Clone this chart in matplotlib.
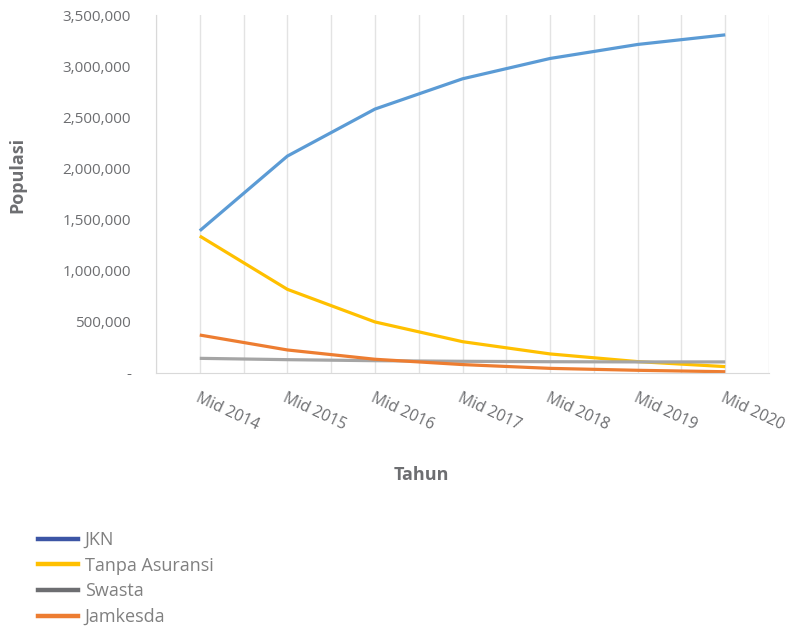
import matplotlib.pyplot as plt
from matplotlib.lines import Line2D
from matplotlib.ticker import FuncFormatter

# data
tahun = ["Mid 2014", "Mid 2015", "Mid 2016", "Mid 2017", "Mid 2018", "Mid 2019", "Mid 2020"]
jkn = [1391000, 2121000, 2581000, 2877000, 3076000, 3213000, 3307000]
tanpa_asuransi = [1339000, 818000, 499000, 306000, 186000, 111000, 62000]
swasta = [143000, 130000, 120000, 114000, 110000, 108000, 108000]
jamkesda = [371000, 225000, 134000, 82000, 45000, 26000, 12000]

seri = ["JKN", "Tanpa Asuransi", "Swasta", "Jamkesda"]
warna_garis = ["#5B9BD5", "#FFC000", "#A5A5A5", "#ED7D31"]
warna_legenda = ["#3C55A5", "#FFC000", "#6D6E71", "#ED7D31"]

plt.rcParams['font.family'] = ['Open Sans', 'DejaVu Sans']
abu = "#6D6E71"

fig = plt.figure(figsize=(7.89, 6.3), dpi=100)
ax = fig.add_axes([0.1977, 0.408, 0.777, 0.568])

x = list(range(len(tahun)))
for data, w in zip([jkn, tanpa_asuransi, swasta, jamkesda], warna_garis):
    ax.plot(x, data, color=w, linewidth=2.3, solid_capstyle='butt')

ax.set_xlim(-0.5, len(tahun) - 0.5)
ax.set_ylim(0, 3500000)

# vertical gridlines every half category
for gx in [i * 0.5 - 0.5 for i in range(2 * len(tahun) + 1)]:
    ax.axvline(gx, color="#E3E3E3", linewidth=1.0, zorder=0)

for s in ["top", "right"]:
    ax.spines[s].set_visible(False)
ax.spines["left"].set_color("#D9D9D9")
ax.spines["bottom"].set_color("#D9D9D9")

ax.set_yticks(range(0, 3500001, 500000))
ax.yaxis.set_major_formatter(FuncFormatter(lambda v, p: "-" if v == 0 else f"{int(v):,}"))
ax.tick_params(axis="y", length=0, pad=18, labelsize=11, labelcolor=abu)

ax.set_xticks(x)
ax.set_xticklabels(tahun)
ax.tick_params(axis="x", length=0, pad=12, labelsize=11.3, labelcolor=abu)
for lbl in ax.get_xticklabels():
    lbl.set_rotation(-25)
    lbl.set_ha("left")
    lbl.set_va("top")
    lbl.set_rotation_mode("anchor")

fig.text(0.022, 0.722, "Populasi", rotation=90, ha="center", va="center",
         fontsize=13, fontweight="bold", color=abu)
fig.text(0.534, 0.246, "Tahun", ha="center", va="center",
         fontsize=13, fontweight="bold", color=abu)

handles = [Line2D([0], [0], color=w, linewidth=3.2) for w in warna_legenda]
leg = fig.legend(handles, seri, loc="upper left", bbox_to_anchor=(0.048, 0.157),
                 frameon=False, fontsize=13, handlelength=2.2, handletextpad=0.4,
                 labelspacing=0.42, borderpad=0, borderaxespad=0)
for t in leg.get_texts():
    t.set_color("#808080")

fig.savefig("out.png", dpi=100)
